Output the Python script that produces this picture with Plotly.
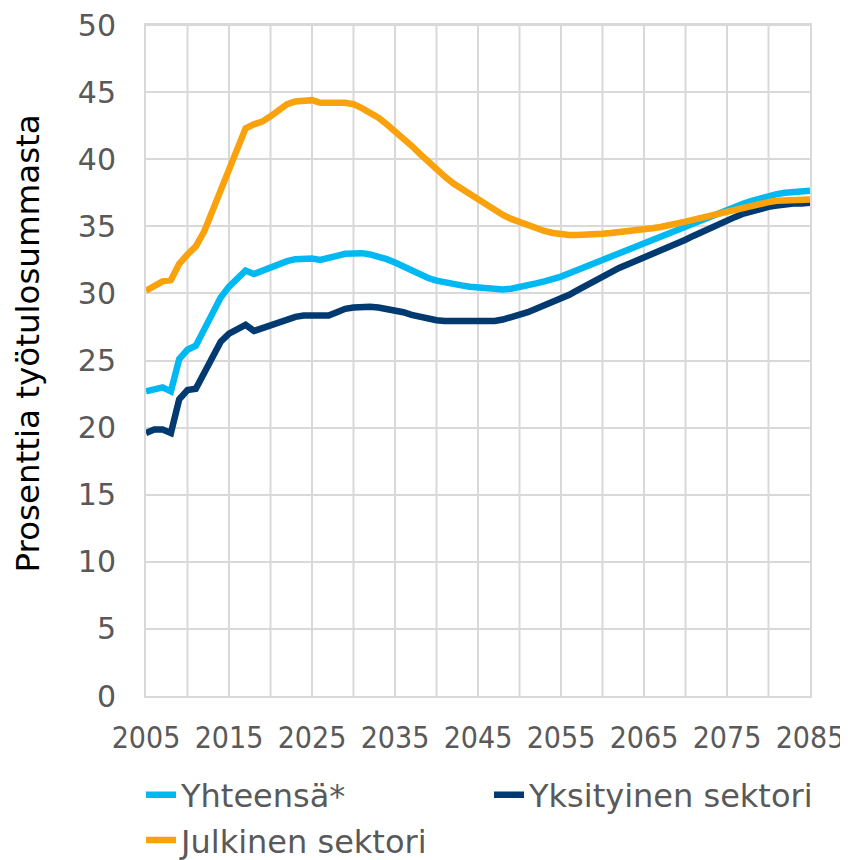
import plotly.graph_objects as go

years = list(range(2005, 2086))

yhteensa = [
    22.7, 22.9, 23.0, 22.7, 25.1, 25.8, 26.1, 27.3, 28.6, 29.7,
    30.5, 31.1, 31.7, 31.45, 31.7, 31.9, 32.1, 32.4, 32.55, 32.6,
    32.6, 32.5, 32.6, 32.8, 32.95, 33.0, 33.0, 32.9, 32.75, 32.55,
    32.3, 32.0, 31.7, 31.4, 31.15, 30.95, 30.8, 30.7, 30.6, 30.5,
    30.45, 30.35, 30.3, 30.3, 30.35, 30.45, 30.6, 30.75, 30.9, 31.05,
    31.25, 31.5, 31.75, 32.05, 32.3, 32.55, 32.8, 33.05, 33.3, 33.55,
    33.8, 34.05, 34.25, 34.5, 34.75, 34.95, 35.2, 35.45, 35.7, 35.95,
    36.2, 36.45, 36.7, 36.9, 37.1, 37.25, 37.4, 37.5, 37.55, 37.6,
    37.65,
]

yksityinen = [
    19.6, 19.85, 19.85, 19.6, 22.1, 22.8, 22.9, 24.0, 25.3, 26.4,
    27.0, 27.35, 27.65, 27.2, 27.4, 27.65, 27.85, 28.1, 28.25, 28.35,
    28.35, 28.25, 28.35, 28.6, 28.85, 28.95, 29.0, 29.0, 28.95, 28.85,
    28.75, 28.6, 28.4, 28.25, 28.1, 28.0, 27.95, 27.95, 27.9, 27.9,
    27.9, 27.9, 27.95, 28.05, 28.2, 28.4, 28.6, 28.85, 29.1, 29.35,
    29.6, 29.9, 30.25, 30.6, 30.95, 31.3, 31.6, 31.9, 32.15, 32.4,
    32.65, 32.95, 33.2, 33.5, 33.75, 34.0, 34.3, 34.6, 34.9, 35.2,
    35.45, 35.7, 35.95, 36.15, 36.3, 36.45, 36.55, 36.65, 36.7, 36.7,
    36.75,
]

julkinen = [
    30.2, 30.5, 30.9, 31.0, 32.2, 32.9, 33.5, 34.6, 36.1, 37.7,
    39.2, 40.6, 42.3, 42.6, 42.8, 43.2, 43.7, 44.1, 44.3, 44.4,
    44.4, 44.2, 44.15, 44.2, 44.2, 44.1, 43.8, 43.5, 43.1, 42.6,
    42.1, 41.6, 41.0, 40.4, 39.8, 39.2, 38.7, 38.2, 37.8, 37.4,
    37.0, 36.6, 36.2, 35.85, 35.55, 35.3, 35.05, 34.85, 34.65, 34.5,
    34.4, 34.35, 34.35, 34.35, 34.4, 34.45, 34.5, 34.55, 34.6, 34.65,
    34.75, 34.85, 34.95, 35.05, 35.2, 35.35, 35.5, 35.65, 35.8, 36.0,
    36.15, 36.3, 36.45, 36.6, 36.7, 36.8, 36.9, 36.95, 37.0, 37.0,
    37.0,
]

x_ticks = list(range(2005, 2086, 10))
y_ticks = list(range(0, 51, 5))
y_title = "Prosenttia työtulosummasta"

FONT = "DejaVu Sans"
TICKFONT = "DejaVu Sans Condensed, DejaVu Sans"
GRAY = "#595959"
GRID = "#D9D9D9"

fig = go.Figure()
fig.add_trace(go.Scatter(x=years, y=yhteensa, mode="lines", name="Yhteensä*",
                         line=dict(color="#00B9F2", width=6.5), legend="legend"))
fig.add_trace(go.Scatter(x=years, y=yksityinen, mode="lines", name="Yksityinen sektori",
                         line=dict(color="#003A70", width=6.5), legend="legend"))
fig.add_trace(go.Scatter(x=years, y=julkinen, mode="lines", name="Julkinen sektori",
                         line=dict(color="#F9A20B", width=6.5), legend="legend2"))

leg_common = dict(orientation="h", xanchor="left", yanchor="middle",
                  entrywidth=303, entrywidthmode="pixels",
                  font=dict(family=FONT, size=32, color=GRAY),
                  traceorder="normal", bgcolor="rgba(0,0,0,0)")

fig.update_layout(
    width=840, height=852,
    margin=dict(l=138, r=38, t=17, b=164, autoexpand=False),
    paper_bgcolor="white", plot_bgcolor="white",
    font=dict(family=FONT, size=30, color=GRAY),
    showlegend=True,
    legend=dict(x=-0.0075, y=-0.1475, **leg_common),
    legend2=dict(x=-0.0075, y=-0.215, **leg_common),
    xaxis=dict(range=[2005, 2085], tickvals=x_ticks, ticktext=[str(v) for v in x_ticks],
               showgrid=True, gridcolor=GRID, gridwidth=2,
               zeroline=False, showline=True, linecolor=GRID, linewidth=2,
               ticks="", tickfont=dict(family=TICKFONT, size=30, color=GRAY), mirror=True,
               automargin=False, ticklabelstandoff=14, ticklabeloverflow="allow"),
    yaxis=dict(range=[0, 50], tickvals=y_ticks, showgrid=True, gridcolor=GRID,
               gridwidth=2, zeroline=False, showline=True, linecolor=GRID,
               linewidth=2, ticks="", tickfont=dict(family=FONT, size=30, color=GRAY), mirror=True,
               automargin=False, ticklabelstandoff=22, ticklabeloverflow="allow"),
    annotations=[dict(text=y_title, xref="paper", yref="paper", x=-0.178, y=0.525,
                      xanchor="center", yanchor="middle", textangle=-90, showarrow=False,
                      font=dict(family=FONT, size=32.5, color="#000000"))],
)

# vertical grid every 5 years and top border
for yr in range(2010, 2085, 5):
    fig.add_vline(x=yr, line=dict(color=GRID, width=2), layer="below")
fig.add_hline(y=50, line=dict(color=GRID, width=2), layer="below")

fig.write_html("out.html")
